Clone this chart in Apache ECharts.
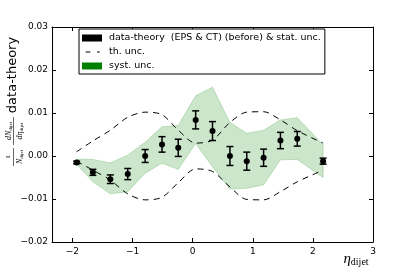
<!DOCTYPE html>
<html>
<head>
<meta charset="utf-8">
<script src="https://cdn.jsdelivr.net/npm/echarts@6/dist/echarts.min.js"></script>
<style>html,body{margin:0;padding:0;background:#fff}#c{width:415px;height:277px}</style>
</head>
<body>
<div id="c"></div>
<script>
// eta_dijet bin centres
var eta = [-1.93, -1.66, -1.37, -1.08, -0.79, -0.51, -0.24, 0.05, 0.33, 0.62, 0.90, 1.18, 1.46, 1.74, 2.17];
// data - theory
var values = [-0.0015, -0.0038, -0.0054, -0.0042, 0.0000, 0.0027, 0.0019, 0.0084, 0.0058, 0.0000, -0.0012, -0.0004, 0.0036, 0.0040, -0.0012];
// statistical uncertainty (half width)
var statUnc = [0.0003, 0.0007, 0.0010, 0.0013, 0.0015, 0.0018, 0.0020, 0.0021, 0.0022, 0.0022, 0.0021, 0.0020, 0.0019, 0.0017, 0.0007];
// systematic band edges
var systUp = [-0.0007, -0.0008, -0.0016, 0.0002, 0.0032, 0.0068, 0.0071, 0.0140, 0.0160, 0.0078, 0.0053, 0.0060, 0.0084, 0.0089, 0.0026];
var systLo = [-0.0019, -0.0060, -0.0088, -0.0083, -0.0040, -0.0017, -0.0031, 0.0029, -0.0025, -0.0077, -0.0075, -0.0067, -0.0009, -0.0008, -0.0050];
// theory uncertainty edges
var thUp = [0.0010, 0.0035, 0.0060, 0.0090, 0.0102, 0.0096, 0.0060, 0.0030, 0.0037, 0.0078, 0.0102, 0.0103, 0.0084, 0.0059, 0.0030];
var thLo = [-0.0012, -0.0033, -0.0056, -0.0088, -0.0102, -0.0096, -0.0062, -0.0030, -0.0036, -0.0072, -0.0101, -0.0102, -0.0083, -0.0060, -0.0033];
// ticks
var xTicks = [-2, -1, 0, 1, 2, 3];
var yMin = -0.02, yMax = 0.03, yStep = 0.01;

var FONT = 'DejaVu Sans';
function minus(s){ return s.replace('-', '\u2212'); }

var chart = echarts.init(document.getElementById('c'), null, {renderer: 'canvas'});

var axisLineStyle = {color: '#000', width: 1};
var dashIcon = 'path://M0,0 L0.01,0 L0.01,0.01 Z M3.7,3 L8.4,3 L8.4,4.1 L3.7,4.1 Z M15,3 L17.7,3 L17.7,4.1 L15,4.1 Z M20,7 L19.99,7 L19.99,6.99 Z';
var mathRich = {
  i: {fontFamily: 'Liberation Serif', fontStyle: 'italic', fontSize: 8, fill: '#000'},
  s: {fontFamily: 'Liberation Serif', fontSize: 5, fill: '#000', padding: [5, 0, 0, 0]}
};
var option = {
  animation: false,
  backgroundColor: '#fff',
  grid: {left: 52, right: 42, top: 27, bottom: 35, show: false},
  legend: {
    orient: 'vertical', left: 79, top: 29,
    backgroundColor: '#fff', borderColor: '#000', borderWidth: 1, borderRadius: 0,
    padding: [4, 4, 3, 3], itemGap: 4, itemWidth: 20, itemHeight: 7,
    textStyle: {fontFamily: FONT, fontSize: 9.5, color: '#000', lineHeight: 10, padding: [0, 0, 0, 2]},
    data: [
      {name: 'data-theory  (EPS & CT) (before) & stat. unc.', icon: 'rect', itemStyle: {color: '#000'}},
      {name: 'th. unc.', icon: dashIcon, itemStyle: {color: '#000'}},
      {name: 'syst. unc.', icon: 'rect', itemStyle: {color: '#008000'}}
    ]
  },
  xAxis: [{
    type: 'value', min: -2.34, max: 3, position: 'bottom',
    axisLine: {show: true, onZero: false, lineStyle: axisLineStyle},
    axisTick: {show: true, inside: true, length: 4, lineStyle: axisLineStyle, customValues: xTicks},
    axisLabel: {show: true, customValues: xTicks, margin: 5, fontFamily: FONT, fontSize: 9, color: '#000',
      formatter: function(v){ return minus(String(v)); }},
    splitLine: {show: false}
  }, {
    type: 'value', min: -2.34, max: 3, position: 'top',
    axisLine: {show: true, onZero: false, lineStyle: axisLineStyle},
    axisTick: {show: true, inside: true, length: 4, lineStyle: axisLineStyle, customValues: xTicks},
    axisLabel: {show: false}, splitLine: {show: false}
  }],
  yAxis: [{
    type: 'value', min: yMin, max: yMax, interval: yStep, position: 'left',
    axisLine: {show: true, onZero: false, lineStyle: axisLineStyle},
    axisTick: {show: true, inside: true, length: 4, lineStyle: axisLineStyle},
    axisLabel: {show: true, margin: 4, fontFamily: FONT, fontSize: 9, color: '#000',
      formatter: function(v){ return minus(v.toFixed(2)); }},
    splitLine: {show: false}
  }, {
    type: 'value', min: yMin, max: yMax, interval: yStep, position: 'right',
    axisLine: {show: true, onZero: false, lineStyle: axisLineStyle},
    axisTick: {show: true, inside: true, length: 4, lineStyle: axisLineStyle},
    axisLabel: {show: false}, splitLine: {show: false}
  }],
  graphic: [
    {
      type: 'group', x: 13.5, y: 177, rotation: Math.PI / 2,
      children: [
        {type: 'text', x: 20, y: -5, style: {text: '1', fontFamily: 'Liberation Serif', fontSize: 7, fill: '#000', align: 'center', verticalAlign: 'middle'}},
        {type: 'line', shape: {x1: 11, y1: 0, x2: 29, y2: 0}, style: {stroke: '#000', lineWidth: 0.6}},
        {type: 'text', x: 20, y: 6, style: {text: '{i|N}{s|dijet}', align: 'center', verticalAlign: 'middle', fill: '#000', rich: mathRich}},
        {type: 'text', x: 46, y: -5, style: {text: '{i|dN}{s|dijet}', align: 'center', verticalAlign: 'middle', fill: '#000', rich: mathRich}},
        {type: 'line', shape: {x1: 32, y1: 0, x2: 60, y2: 0}, style: {stroke: '#000', lineWidth: 0.6}},
        {type: 'text', x: 46, y: 6, style: {text: '{i|d\u03b7}{s|dijet}', align: 'center', verticalAlign: 'middle', fill: '#000', rich: mathRich}},
        {type: 'text', x: 102, y: -1, style: {text: 'data-theory', fontFamily: FONT, fontSize: 13, fill: '#000', align: 'center', verticalAlign: 'middle'}}
      ]
    },
    {
      type: 'text', x: 356, y: 259,
      style: {text: '{i|\u03b7}{s|dijet}', align: 'center', verticalAlign: 'middle', fill: '#000',
        rich: {i: {fontFamily: 'Liberation Serif', fontStyle: 'italic', fontSize: 15, fill: '#000'},
               s: {fontFamily: 'Liberation Serif', fontSize: 10, fill: '#000', padding: [7, 0, 0, 0]}}}
    }
  ],
  series: [
    {
      name: 'syst. unc.', type: 'custom', z: 1,
      itemStyle: {color: '#008000'},
      data: eta.map(function(e, i){ return [e, systLo[i], systUp[i]]; }),
      encode: {x: 0, y: [1, 2]},
      renderItem: function(params, api){
        if (params.dataIndex !== 0) return null;
        var pts = [];
        for (var i = 0; i < eta.length; i++) pts.push(api.coord([eta[i], systUp[i]]));
        for (var j = eta.length - 1; j >= 0; j--) pts.push(api.coord([eta[j], systLo[j]]));
        return {type: 'polygon', shape: {points: pts},
          style: {fill: 'rgba(0,128,0,0.2)', stroke: 'rgba(0,128,0,0.2)', lineWidth: 1}};
      }
    },
    {
      name: 'th. unc.', type: 'line', z: 2, symbol: 'none', smooth: 0.3,
      data: eta.map(function(e, i){ return [e, thUp[i]]; }),
      lineStyle: {color: '#000', width: 1, type: [6, 5]}, itemStyle: {color: '#000'}
    },
    {
      name: 'th. unc.', type: 'line', z: 2, symbol: 'none', smooth: 0.3,
      data: eta.map(function(e, i){ return [e, thLo[i]]; }),
      lineStyle: {color: '#000', width: 1, type: [6, 5]}, itemStyle: {color: '#000'}
    },
    {
      name: 'data-theory  (EPS & CT) (before) & stat. unc.', type: 'custom', z: 3,
      itemStyle: {color: '#000'},
      data: eta.map(function(e, i){ return [e, values[i], values[i] - statUnc[i], values[i] + statUnc[i]]; }),
      encode: {x: 0, y: [1, 2, 3]},
      renderItem: function(params, api){
        var x = api.value(0);
        var c = api.coord([x, api.value(1)]);
        var lo = api.coord([x, api.value(2)]);
        var hi = api.coord([x, api.value(3)]);
        var cap = 3.5;
        var st = {stroke: '#000', lineWidth: 1.5};
        return {type: 'group', children: [
          {type: 'line', shape: {x1: c[0], y1: lo[1], x2: c[0], y2: hi[1]}, style: st},
          {type: 'line', shape: {x1: c[0] - cap, y1: lo[1], x2: c[0] + cap, y2: lo[1]}, style: st},
          {type: 'line', shape: {x1: c[0] - cap, y1: hi[1], x2: c[0] + cap, y2: hi[1]}, style: st},
          {type: 'circle', shape: {cx: c[0], cy: c[1], r: 3}, style: {fill: '#000'}}
        ]};
      }
    }
  ]
};
chart.setOption(option);
</script>
</body>
</html>
